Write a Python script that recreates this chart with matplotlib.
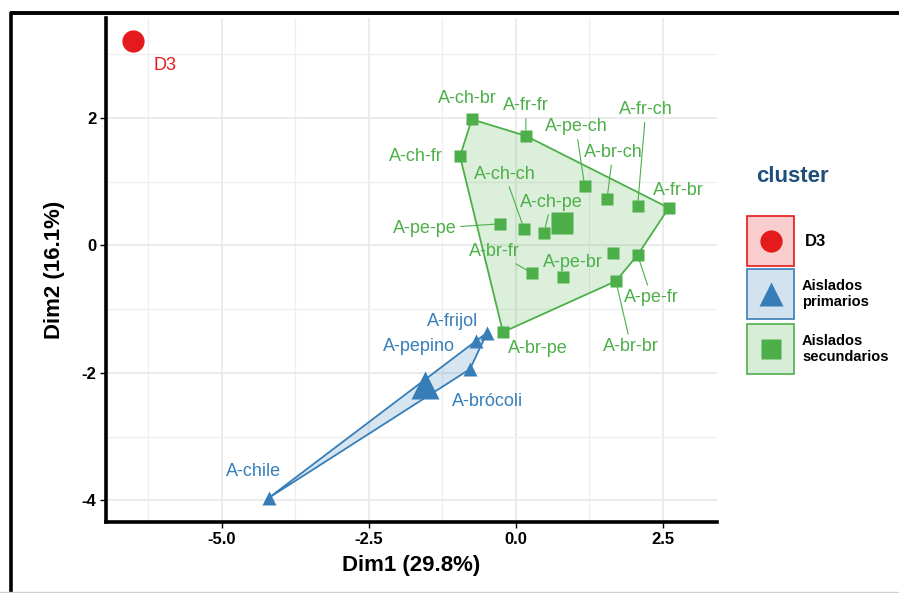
import numpy as np
import matplotlib
matplotlib.use('Agg')
import matplotlib.pyplot as plt
from matplotlib.patches import Polygon, Rectangle

plt.rcParams['font.family'] = ['Liberation Sans', 'DejaVu Sans']
plt.rcParams['axes.unicode_minus'] = False

# datos PCA
d3_names = ['D3']
d3_x = [-6.51]
d3_y = [3.21]

pri_names = ['A-frijol', 'A-pepino', 'A-brócoli', 'A-chile']
pri_x = [-0.49, -0.68, -0.78, -4.20]
pri_y = [-1.37, -1.50, -1.94, -3.96]

sec_names = ['A-ch-br', 'A-fr-fr', 'A-ch-fr', 'A-pe-ch', 'A-br-ch', 'A-fr-ch',
             'A-fr-br', 'A-pe-pe', 'A-ch-ch', 'A-ch-pe', 'A-br-fr', 'A-pe-br',
             'A-br-br', 'A-pe-fr', 'A-fr-pe', 'A-br-pe']
sec_x = [-0.75, 0.17, -0.95, 1.17, 1.55, 2.07, 2.60, -0.27, 0.14, 0.48,
         0.27, 0.80, 1.70, 2.07, 1.65, -0.22]
sec_y = [1.98, 1.72, 1.40, 0.93, 0.73, 0.62, 0.59, 0.34, 0.26, 0.20,
         -0.43, -0.49, -0.56, -0.15, -0.12, -1.36]

cluster_labels = ['D3', 'Aislados\nprimarios', 'Aislados\nsecundarios']

# posiciones de las etiquetas (estilo ggrepel): (x, y, con linea)
label_pos = {
    'D3': (-5.97, 2.82, False),
    'A-ch-br': (-0.82, 2.31, False),
    'A-fr-fr': (0.17, 2.19, True),
    'A-ch-fr': (-1.70, 1.39, False),
    'A-pe-ch': (1.02, 1.86, True),
    'A-br-ch': (1.65, 1.46, True),
    'A-fr-ch': (2.21, 2.13, True),
    'A-fr-br': (2.76, 0.87, False),
    'A-ch-ch': (-0.19, 1.12, True),
    'A-ch-pe': (0.60, 0.68, True),
    'A-pe-pe': (-1.55, 0.26, True),
    'A-br-fr': (-0.36, -0.10, True),
    'A-pe-br': (0.97, -0.27, False),
    'A-pe-fr': (2.31, -0.82, True),
    'A-br-br': (1.96, -1.59, True),
    'A-br-pe': (0.37, -1.62, False),
    'A-frijol': (-1.07, -1.20, False),
    'A-pepino': (-1.65, -1.58, False),
    'A-brócoli': (-0.49, -2.45, False),
    'A-chile': (-4.46, -3.55, False),
}

RED = '#E41A1C'
BLUE = '#377EB8'
GREEN = '#4DAF4A'


def convex_hull(pts):
    pts = sorted(set(pts))
    if len(pts) < 3:
        return pts

    def cross(o, a, b):
        return (a[0] - o[0]) * (b[1] - o[1]) - (a[1] - o[1]) * (b[0] - o[0])
    lower, upper = [], []
    for p in pts:
        while len(lower) >= 2 and cross(lower[-2], lower[-1], p) <= 0:
            lower.pop()
        lower.append(p)
    for p in reversed(pts):
        while len(upper) >= 2 and cross(upper[-2], upper[-1], p) <= 0:
            upper.pop()
        upper.append(p)
    return lower[:-1] + upper[:-1]


fig = plt.figure(figsize=(8.99, 5.93), dpi=100)
W, H = 899, 593
ax = fig.add_axes([106 / W, 1 - 522 / H, (717 - 106) / W, (522 - 18) / H])
ax.set_xlim(-6.97, 3.42)
ax.set_ylim(-4.34, 3.57)

ax.set_xticks([-5.0, -2.5, 0.0, 2.5])
ax.set_xticklabels(['-5.0', '-2.5', '0.0', '2.5'])
ax.set_yticks([-4, -2, 0, 2])
ax.set_yticklabels(['-4', '-2', '0', '2'])
ax.set_xticks(np.arange(-6.25, 3.5, 2.5), minor=True)
ax.set_yticks([-3, -1, 1, 3], minor=True)
ax.grid(True, which='major', color='#e6e6e6', lw=1.1)
ax.grid(True, which='minor', color='#efefef', lw=0.9)
ax.set_axisbelow(True)
for s in ['top', 'right']:
    ax.spines[s].set_visible(False)
for s in ['left', 'bottom']:
    ax.spines[s].set_linewidth(2.6)
ax.tick_params(which='major', length=4, width=1, labelsize=12, pad=3)
ax.tick_params(which='minor', length=0)
for t in ax.get_xticklabels() + ax.get_yticklabels():
    t.set_fontweight('bold')
ax.set_xlabel('Dim1 (29.8%)', fontsize=16, fontweight='bold', labelpad=6)
ax.set_ylabel('Dim2 (16.1%)', fontsize=16, fontweight='bold', labelpad=12)

groups = [
    (pri_names, pri_x, pri_y, BLUE, '^', 10.5, 20),
    (sec_names, sec_x, sec_y, GREEN, 's', 8.5, 16),
]
for names, xs, ys, col, mk, ms, cms in groups:
    hull = convex_hull(list(zip(xs, ys)))
    ax.add_patch(Polygon(hull, closed=True, facecolor=col, alpha=0.2,
                         edgecolor='none', zorder=1))
    ax.add_patch(Polygon(hull, closed=True, facecolor='none',
                         edgecolor=col, lw=1.3, zorder=2))
    ax.plot(xs, ys, ls='none', marker=mk, ms=ms, color=col, mec='none', zorder=3)
    ax.plot([np.mean(xs)], [np.mean(ys)], ls='none', marker=mk, ms=cms,
            color=col, mec='none', zorder=3)

ax.plot(d3_x, d3_y, ls='none', marker='o', ms=16, color=RED, mec='none', zorder=3)

all_pts = [(d3_names, d3_x, d3_y, RED), (pri_names, pri_x, pri_y, BLUE),
           (sec_names, sec_x, sec_y, GREEN)]
for names, xs, ys, col in all_pts:
    for n, x, y in zip(names, xs, ys):
        if n not in label_pos:
            continue
        tx, ty, seg = label_pos[n]
        ap = None
        if seg:
            ap = dict(arrowstyle='-', color=col, lw=0.8, shrinkA=1, shrinkB=4)
        ax.annotate(n, xy=(x, y), xytext=(tx, ty), ha='center', va='center',
                    fontsize=13, color=col, arrowprops=ap, zorder=4)

# leyenda dibujada en coordenadas de pixel
lg = fig.add_axes([0, 0, 1, 1], zorder=5)
lg.set_xlim(0, W)
lg.set_ylim(H, 0)
lg.axis('off')
lg.text(792, 177, 'cluster', ha='center', va='center', fontsize=16,
        fontweight='bold', color='#1F4E79')
boxes = [(216, RED, 'o', 16), (269, BLUE, '^', 17), (324, GREEN, 's', 14)]
for (top, col, mk, ms), lab in zip(boxes, cluster_labels):
    lg.add_patch(Rectangle((747, top), 47, 50, facecolor=col, alpha=0.22,
                           edgecolor='none'))
    lg.add_patch(Rectangle((747, top), 47, 50, facecolor='none',
                           edgecolor=col, lw=1.2))
    lg.plot([770.5], [top + 25], marker=mk, ms=ms, color=col, mec='none')
    fs = 12 if lab == 'D3' else 10.5
    lg.text(805 if lab == 'D3' else 802, top + 25, lab, ha='left', va='center',
            fontsize=fs, fontweight='bold', linespacing=1.25)

# marco exterior
lg.plot([11, 11], [12, H], color='black', lw=2.6, solid_capstyle='butt')
lg.plot([10, W], [12.5, 12.5], color='black', lw=2.8, solid_capstyle='butt')
lg.plot([0, W], [592, 592], color='#d0d0d0', lw=1)

fig.savefig('out.png', dpi=100)
